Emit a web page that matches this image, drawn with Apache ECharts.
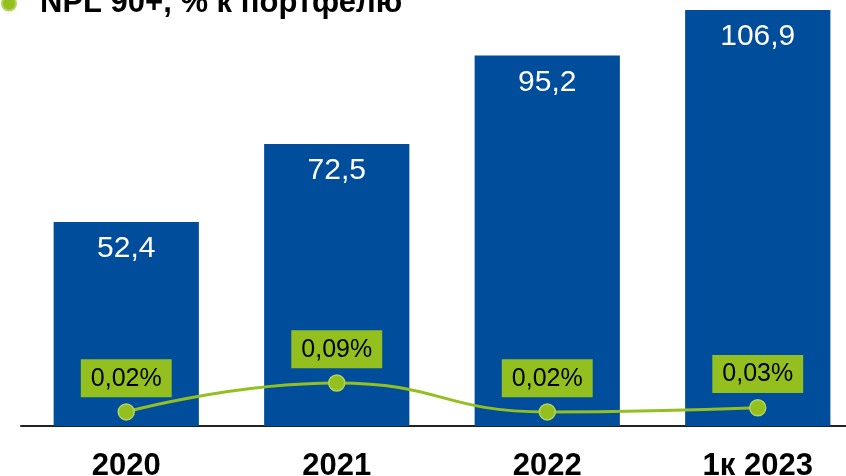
<!DOCTYPE html>
<html><head><meta charset="utf-8">
<script src="https://cdn.jsdelivr.net/npm/echarts@6/dist/echarts.min.js"></script>
<style>html,body{margin:0;padding:0;background:#fff}#c{width:846px;height:476px}</style>
</head><body><div id="c"></div>
<script>
const categories = ['2020', '2021', '2022', '1к 2023'];
const portfolio = [52.4, 72.5, 95.2, 106.9];
const npl90 = [0.02, 0.09, 0.02, 0.03];
const lineName = 'NPL 90+, % к портфелю';

const BLUE = '#004D9B', GREEN = '#93C01F';
const fmt = (v, d) => v.toFixed(d).replace('.', ',');

const chart = echarts.init(document.getElementById('c'));
chart.setOption({
  animation: false,
  textStyle: { fontFamily: 'Liberation Sans, Arial, sans-serif' },
  legend: {
    data: [{ name: lineName, icon: 'circle' }],
    left: -4, top: -17, itemWidth: 14, itemHeight: 14,
    textStyle: { fontSize: 31, fontWeight: 'bold', color: '#000', lineHeight: 30, padding: [0, 0, 0, 19] }
  },
  grid: { left: 21, width: 842, top: -2, bottom: 50, outerBoundsMode: 'none', containLabel: false },
  xAxis: {
    type: 'category', data: categories,
    axisLine: { lineStyle: { color: '#222', width: 2 } },
    axisTick: { show: false },
    axisLabel: { fontSize: 31, fontWeight: 'bold', color: '#000', margin: 25 }
  },
  yAxis: [
    { type: 'value', min: 0, max: 110, show: false, splitLine: { show: false } },
    { type: 'value', min: -0.014, max: 1.02, show: false, splitLine: { show: false } }
  ],
  series: [
    {
      type: 'bar', data: portfolio, barWidth: '69%', yAxisIndex: 0,
      itemStyle: { color: BLUE },
      label: {
        show: true, position: 'insideTop', distance: 12, color: '#fff', fontSize: 30,
        formatter: p => fmt(p.value, 1)
      }
    },
    {
      name: lineName, type: 'line', data: npl90, yAxisIndex: 1, smooth: 0.5,
      symbol: 'circle', symbolSize: 16,
      lineStyle: { color: GREEN, width: 3 },
      itemStyle: { color: GREEN, borderColor: '#B2D35E', borderWidth: 1.5 },
      label: {
        show: true, position: 'top', distance: 6, color: '#000', fontSize: 25,
        backgroundColor: GREEN, padding: [7, 10, 6, 10],
        formatter: p => fmt(p.value, 2) + '%'
      }
    }
  ]
});
</script></body></html>
